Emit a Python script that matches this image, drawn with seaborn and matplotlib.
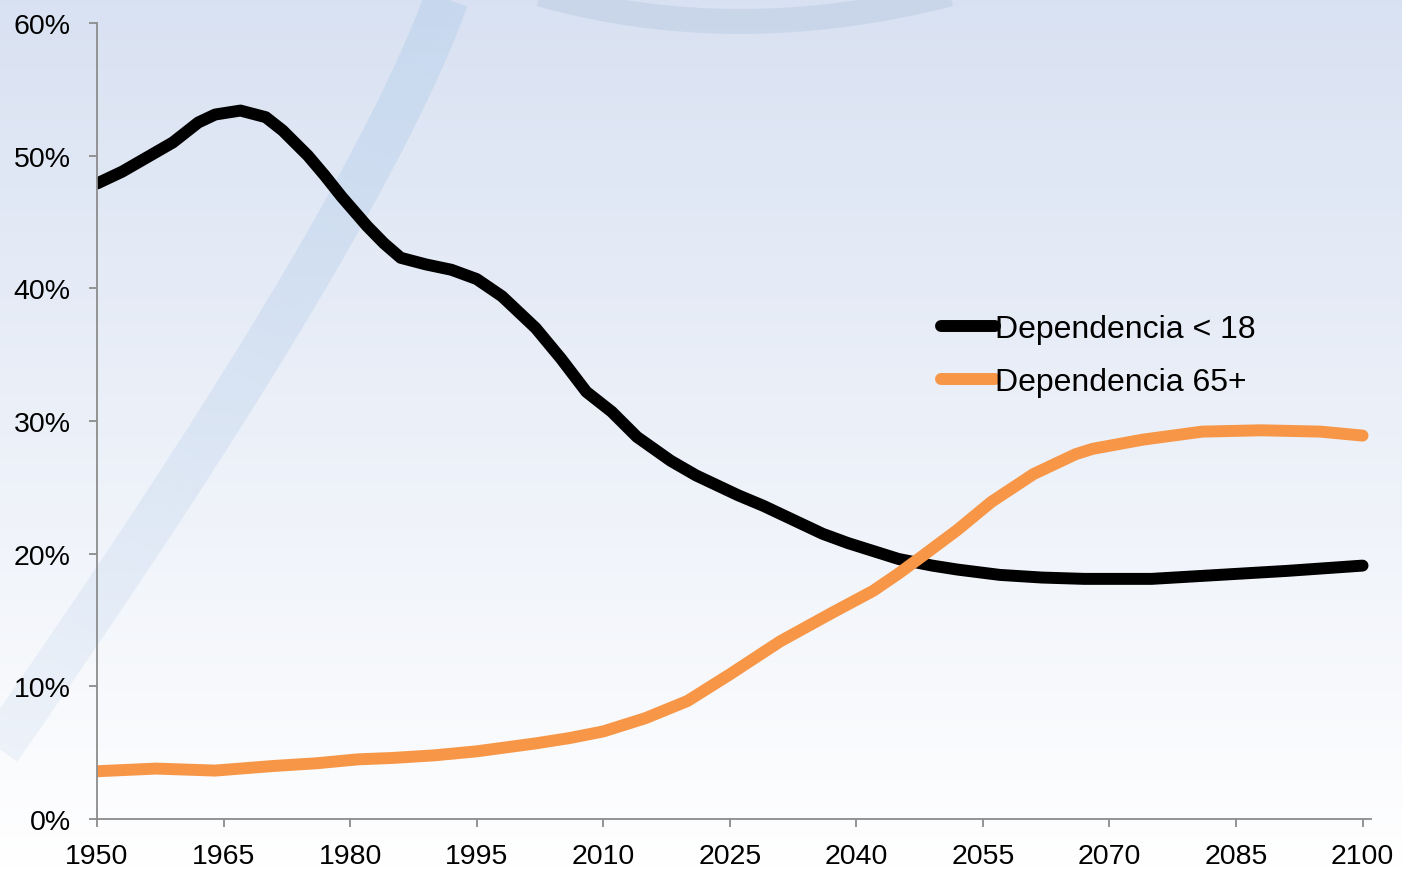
import numpy as np
import pandas as pd
import matplotlib
matplotlib.use("Agg")
import matplotlib.pyplot as plt
from matplotlib.path import Path
from matplotlib.patches import PathPatch
from matplotlib.collections import LineCollection
from matplotlib.ticker import FuncFormatter
import seaborn as sns

# ---- data (percent) ----
years_u18 = [1950, 1953, 1956, 1959, 1962, 1964, 1967, 1970, 1972, 1975, 1977, 1979,
             1982, 1984, 1986, 1989, 1992, 1995, 1998, 2002, 2005, 2008, 2011, 2014,
             2018, 2021, 2026, 2029, 2033, 2036, 2039, 2042, 2045, 2049, 2052, 2057,
             2062, 2067, 2075, 2083, 2091, 2100]
dep_u18 = [47.9, 48.8, 49.9, 51.0, 52.5, 53.1, 53.4, 52.9, 51.9, 50.0, 48.5, 46.9,
           44.7, 43.4, 42.3, 41.8, 41.4, 40.7, 39.4, 37.0, 34.7, 32.2, 30.7, 28.8,
           27.0, 25.9, 24.4, 23.6, 22.4, 21.5, 20.8, 20.2, 19.6, 19.1, 18.8, 18.4,
           18.2, 18.1, 18.1, 18.4, 18.7, 19.1]

years_65 = [1950, 1957, 1964, 1971, 1976, 1981, 1985, 1990, 1995, 2002, 2006, 2010,
            2015, 2020, 2025, 2031, 2037, 2042, 2045, 2048, 2052, 2056, 2061, 2066,
            2068, 2074, 2081, 2088, 2095, 2100]
dep_65 = [3.6, 3.8, 3.65, 4.0, 4.2, 4.5, 4.6, 4.8, 5.1, 5.7, 6.1, 6.6,
          7.6, 8.9, 10.9, 13.4, 15.5, 17.2, 18.5, 19.9, 21.8, 23.9, 26.0, 27.5,
          27.9, 28.6, 29.2, 29.3, 29.2, 28.9]

series_names = ["Dependencia < 18", "Dependencia 65+"]
series_colors = ["#000000", "#F79646"]
x_ticks = list(range(1950, 2101, 15))
y_ticks = [0, 10, 20, 30, 40, 50, 60]

df = pd.concat([
    pd.DataFrame({"year": years_u18, "value": dep_u18, "serie": series_names[0]}),
    pd.DataFrame({"year": years_65, "value": dep_65, "serie": series_names[1]}),
], ignore_index=True)

sns.set_theme(style="white")
plt.rcParams["font.family"] = ["Liberation Sans", "DejaVu Sans"]
plt.rcParams["text.color"] = "black"

W, H = 1402, 870
fig = plt.figure(figsize=(W / 100, H / 100), dpi=100)

# ---- background gradient + decorative bands ----
bg = fig.add_axes([0, 0, 1, 1], zorder=-10)
top = np.array([0.850, 0.885, 0.950])
bot = np.array([1.0, 1.0, 1.0])
t = np.linspace(0, 1, 256)[:, None]
grad = top[None, :] * (1 - t) + bot[None, :] * t
img = np.repeat(grad[:, None, :], 4, axis=1)
bg.imshow(img, extent=[0, W, H, 0], aspect="auto", interpolation="bilinear")
bg.set_xlim(0, W)
bg.set_ylim(H, 0)
bg.axis("off")

# curved diagonal band, fading toward bottom-left
p0, pc, p2 = np.array([450, -10]), np.array([370, 220]), np.array([-15, 770])
tt = np.linspace(0, 1, 120)[:, None]
pts = (1 - tt) ** 2 * p0 + 2 * (1 - tt) * tt * pc + tt ** 2 * p2
segs = np.stack([pts[:-1], pts[1:]], axis=1)
alphas = np.linspace(0.7, 0.2, len(segs))
cols = [(0.75, 0.83, 0.93, a) for a in alphas]
bg.add_collection(LineCollection(segs, colors=cols, linewidths=32, capstyle="butt"))

arc = Path([(540, -5), (735, 50), (950, -5)],
           [Path.MOVETO, Path.CURVE3, Path.CURVE3])
bg.add_patch(PathPatch(arc, fill=False, lw=18, edgecolor="#c6d4e9", alpha=0.8,
                       capstyle="butt"))

# ---- main axes ----
ax = fig.add_axes([97 / W, 50 / H, (1371 - 97) / W, (820 - 24) / H])
ax.patch.set_alpha(0)

sns.lineplot(data=df, x="year", y="value", hue="serie", hue_order=series_names,
             palette=series_colors, linewidth=8.6, ax=ax, legend=True,
             estimator=None, sort=True)
for ln in ax.lines:
    ln.set_solid_capstyle("round")
    ln.set_solid_joinstyle("round")

ax.set_xlim(1950, 2101)
ax.set_ylim(0, 60)
ax.set_xticks(x_ticks)
ax.set_yticks(y_ticks)
ax.yaxis.set_major_formatter(FuncFormatter(lambda v, p: f"{int(v)}%"))
ax.set_xlabel("")
ax.set_ylabel("")

for s in ["top", "right"]:
    ax.spines[s].set_visible(False)
for s in ["left", "bottom"]:
    ax.spines[s].set_color("#8c8c8c")
    ax.spines[s].set_linewidth(1.3)
ax.tick_params(axis="both", which="major", direction="out", length=6, width=1.3,
               color="#8c8c8c", labelsize=20.5, labelcolor="black",
               bottom=True, left=True)
ax.tick_params(axis="x", pad=11)
ax.tick_params(axis="y", pad=13)

leg = ax.legend(loc="upper left", bbox_to_anchor=(941 / W, (870 - 315) / H),
                bbox_transform=fig.transFigure, frameon=False, fontsize=23,
                handlelength=1.68, handletextpad=0.02, labelspacing=0.72,
                borderaxespad=0, borderpad=0)
for h in leg.get_lines():
    h.set_linewidth(8.6)
    h.set_solid_capstyle("round")
for txt in leg.get_texts():
    txt.set_color("black")

fig.savefig("out.png", dpi=100)
